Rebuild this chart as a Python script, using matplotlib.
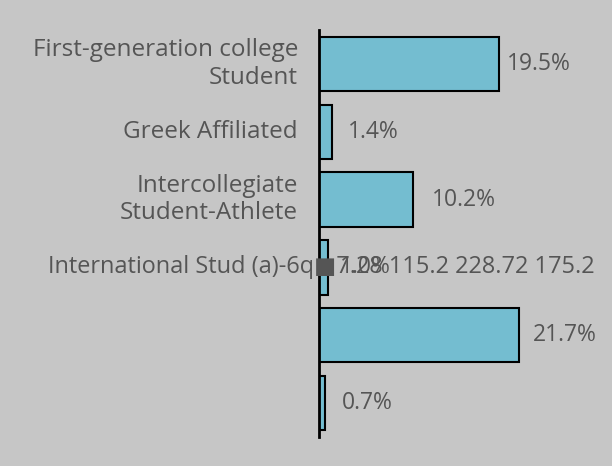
import matplotlib
matplotlib.use("Agg")
import matplotlib.pyplot as plt

# data
categories = [
    "First-generation college\nStudent",
    "Greek Affiliated",
    "Intercollegiate\nStudent-Athlete",
    "International Stud (a)-6q\u25A07.28 115.2 228.72 175.2",
    "",
    "",
]
values = [19.5, 1.4, 10.2, 1.0, 21.7, 0.7]
value_labels = ["19.5%", "1.4%", "10.2%", "1.0%", "21.7%", "0.7%"]

# styling
bg = "#c6c6c6"
bar_color = "#74bdd0"
text_color = "#555555"
label_pad_px = [8, 16, 19, 12, 14, 16]
fs = 17.5

plt.rcParams["font.family"] = ["Open Sans", "DejaVu Sans"]

fig = plt.figure(figsize=(6.12, 4.66), dpi=100, facecolor=bg)
ax = fig.add_axes([319 / 612, 29 / 466, 293 / 612, 407 / 466])
ax.set_facecolor(bg)

ypos = list(range(len(values)))
ax.barh(ypos, values, height=0.8, color=bar_color, edgecolor="black", linewidth=1.5)

ax.set_xlim(0, 293 / 9.225)
ax.set_ylim(len(values) - 0.5, -0.5)

for s in ["top", "right", "bottom"]:
    ax.spines[s].set_visible(False)
ax.spines["left"].set_linewidth(2)
ax.spines["left"].set_color("black")
ax.set_xticks([])
ax.set_yticks([])

# category labels
for i, lab in enumerate(categories):
    if not lab:
        continue
    if i == 3:
        # this one runs out past the axis, left aligned
        ax.annotate(lab, xy=(0, i), xycoords="data", xytext=(-271 * 0.72, 0),
                    textcoords="offset points", ha="left", va="center",
                    fontsize=fs - 0.6, color=text_color, annotation_clip=False)
    else:
        ax.annotate(lab, xy=(0, i), xycoords="data", xytext=(-21 * 0.72, 0),
                    textcoords="offset points", ha="right", va="center",
                    fontsize=fs, color=text_color, linespacing=1.2,
                    multialignment="right", annotation_clip=False)

# value labels
for i, (v, t) in enumerate(zip(values, value_labels)):
    ax.annotate(t, xy=(v, i), xycoords="data", xytext=(label_pad_px[i] * 0.72, 0),
                textcoords="offset points", ha="left", va="center",
                fontsize=fs - 1, color=text_color, annotation_clip=False)

fig.savefig("out.png", dpi=100, facecolor=bg)
